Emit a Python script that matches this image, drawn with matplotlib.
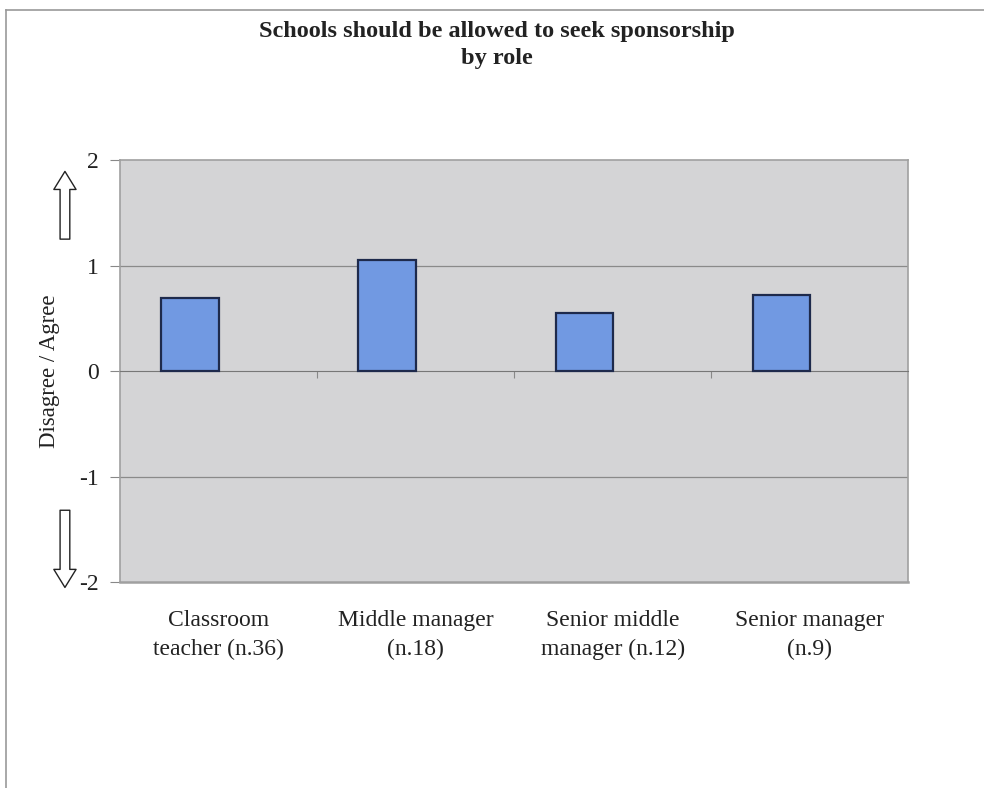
"""
Schools should be allowed to seek sponsorship - by role
"""
import matplotlib
matplotlib.use("Agg")
import matplotlib.pyplot as plt
import matplotlib.transforms as mtransforms
from matplotlib.lines import Line2D
import numpy as np

roles = ["Classroom\nteacher (n.36)", "Middle manager\n(n.18)",
         "Senior middle\nmanager (n.12)", "Senior manager\n(n.9)"]
scores = [0.69, 1.05, 0.55, 0.72]
y_ticks = [-2, -1, 0, 1, 2]

plt.rcParams["font.family"] = ["Liberation Serif", "DejaVu Serif"]

fig = plt.figure(figsize=(9.84, 7.88), dpi=100)
ax = fig.add_axes([0.122, 0.261, 0.801, 0.536])
ax.set_facecolor("#d4d4d6")

x = np.arange(len(roles))
bar_w = 0.29
# bars sit just left of the category centre (Excel two-series slot)
ax.bar(x - bar_w / 2, scores, width=bar_w, color="#7199e2", edgecolor="#1e2a4c",
       linewidth=1.6, zorder=3)

ax.set_xlim(-0.5, len(roles) - 0.5)
ax.set_ylim(-2, 2)
ax.set_yticks(y_ticks)
ax.set_yticklabels([str(v) for v in y_ticks], fontsize=17, color="#222")
ax.tick_params(axis="y", length=7, width=0.8, color="#888", pad=8)
for v in (-1, 1):
    ax.axhline(v, color="#8a8a8a", linewidth=0.9, zorder=1)

# category axis crosses at zero, ticks between categories
ax.spines["bottom"].set_position(("data", 0))
ax.spines["bottom"].set_color("#777")
ax.set_xticks(np.arange(0.5, len(roles) - 0.5, 1.0))
ax.set_xticklabels([])
ax.tick_params(axis="x", length=5, width=0.8, color="#888", direction="out")
for side in ("left", "top", "right"):
    ax.spines[side].set_color("#a0a0a0")
    ax.spines[side].set_linewidth(1.2)
ax.axhline(-2, color="#a0a0a0", linewidth=1.8, clip_on=False, zorder=4)

trans = mtransforms.blended_transform_factory(ax.transData, ax.transAxes)
for xi, name in zip(x, roles):
    ax.text(xi, -0.066, name, transform=trans, ha="center", va="top",
            fontsize=17, color="#222", linespacing=1.5)

ax.set_ylabel("Disagree / Agree", fontsize=16.5, color="#222", labelpad=14)

fig.text(0.505, 0.973, "Schools should be allowed to seek sponsorship\nby role",
         ha="center", va="top", fontsize=17.5, fontweight="bold", color="#222",
         linespacing=1.35)

# hollow arrows beside the value axis
for y0, y1 in ((0.693, 0.786), (0.356, 0.251)):
    ax.annotate("", xy=(0.066, y1), xytext=(0.066, y0), xycoords="figure fraction",
                textcoords="figure fraction",
                arrowprops=dict(arrowstyle="simple,head_length=1.3,head_width=1.6,tail_width=0.7",
                                fc="white", ec="#222", lw=1.0))

# outer frame (left and top edges visible)
fig.add_artist(Line2D([0.006, 0.006], [0.0, 0.987], color="#999", lw=1.2))
fig.add_artist(Line2D([0.006, 1.0], [0.987, 0.987], color="#999", lw=1.2))

fig.savefig("out.png", dpi=100, facecolor="white")
